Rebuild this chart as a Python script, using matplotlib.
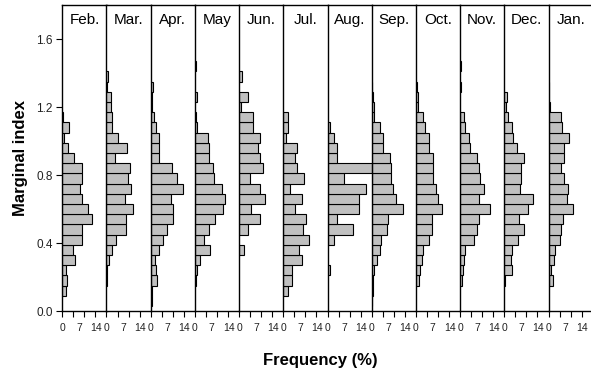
import matplotlib
matplotlib.use("Agg")
import matplotlib.pyplot as plt
import matplotlib.transforms as mtransforms

plt.rcParams['font.family'] = ['Liberation Sans', 'DejaVu Sans']

# bin centres of the marginal index (bin width 0.06)
bin_centers = [0.06, 0.12, 0.18, 0.24, 0.30, 0.36, 0.42, 0.48, 0.54, 0.60, 0.66, 0.72,
               0.78, 0.84, 0.90, 0.96, 1.02, 1.08, 1.14, 1.20, 1.26, 1.32, 1.38, 1.44]
bin_width = 0.06

months = ['Feb.', 'Mar.', 'Apr.', 'May', 'Jun.', 'Jul.',
          'Aug.', 'Sep.', 'Oct.', 'Nov.', 'Dec.', 'Jan.']

# frequency (%) per bin, one list per month
feb = [0, 1.4, 1.8, 1.4, 5.3, 4.6, 8.0, 8.4, 12.2, 10.8, 8.4, 7.5,
       8.0, 8.3, 4.7, 2.4, 0.6, 2.8, 0.4, 0, 0, 0, 0, 0]
mar = [0, 0, 0.3, 0.4, 1.1, 2.4, 4.0, 8.2, 8.2, 11.2, 7.7, 10.2,
       9.0, 9.9, 3.6, 8.7, 4.7, 2.4, 2.4, 1.9, 1.7, 0.4, 0.7, 0]
apr = [0.6, 0.7, 2.6, 2.2, 1.9, 3.6, 5.0, 6.6, 9.1, 9.1, 8.3, 13.3,
       10.8, 8.9, 3.6, 3.6, 3.6, 2.2, 1.2, 0.4, 0.4, 0.8, 0, 0]
may = [0, 0, 0.4, 1.0, 2.0, 6.1, 3.8, 5.8, 8.3, 11.7, 12.5, 11.3,
       8.0, 7.7, 5.8, 5.8, 5.3, 1.0, 0.6, 0, 0.7, 0, 0, 0.6]
jun = [0, 0, 0, 0, 0, 1.9, 0, 3.9, 8.6, 4.8, 10.7, 8.6,
       4.7, 9.8, 8.6, 7.7, 8.6, 5.7, 5.7, 0.7, 3.9, 0, 1.0, 0]
jul = [0, 1.9, 3.7, 3.7, 7.6, 6.4, 10.5, 8.4, 9.4, 4.7, 7.6, 2.6,
       8.6, 5.7, 4.7, 5.5, 1.0, 1.8, 1.8, 0, 0, 0, 0, 0]
aug = [0, 0, 0, 1.0, 0, 0, 2.9, 10.8, 4.0, 13.3, 13.3, 16.0,
       6.9, 18.4, 3.9, 3.9, 2.9, 1.0, 0, 0, 0, 0, 0, 0]
sep = [0.3, 0.4, 0.7, 1.0, 2.2, 3.4, 4.0, 6.4, 6.7, 13.0, 10.0, 9.0,
       8.0, 7.9, 7.6, 4.5, 4.5, 3.5, 1.0, 0.8, 0.5, 0.3, 0, 0]
oct_ = [0, 0, 1.4, 1.9, 2.5, 3.0, 5.4, 6.9, 6.8, 10.9, 9.1, 8.3,
        7.3, 7.1, 7.3, 5.4, 5.4, 3.9, 2.9, 0.8, 0.7, 0.4, 0, 0]
nov = [0, 0, 0.6, 1.2, 1.8, 2.2, 5.8, 7.2, 7.9, 12.3, 7.9, 9.8,
       8.4, 8.0, 7.2, 4.3, 3.7, 2.1, 1.8, 0, 0, 0.4, 0, 0.3]
dec = [0, 0, 0.4, 3.0, 2.6, 3.0, 5.9, 8.4, 6.1, 10.0, 11.8, 6.4,
       6.8, 6.9, 8.0, 5.4, 3.7, 3.2, 1.4, 0.7, 1.0, 0, 0, 0]
jan = [0, 0, 1.9, 1.0, 2.1, 2.9, 4.6, 5.1, 6.1, 10.2, 7.9, 8.2,
       6.6, 5.4, 6.4, 6.6, 8.4, 5.8, 5.1, 0.8, 0.4, 0.4, 0, 0]

freqs = [feb, mar, apr, may, jun, jul, aug, sep, oct_, nov, dec, jan]

x_max = 18.4
fig = plt.figure(figsize=(5.91, 3.75), dpi=100)

left0 = 62.3 / 591
panel_w = 44.2 / 591
bottom = 64 / 375
height = 306 / 375

for i, (name, vals) in enumerate(zip(months, freqs)):
    ax = fig.add_axes([left0 + i * panel_w, bottom, panel_w, height])
    ys = [c for c, v in zip(bin_centers, vals) if v > 0]
    ws = [v for v in vals if v > 0]
    ax.barh(ys, ws, height=bin_width, color='#c0c0c0',
            edgecolor='black', linewidth=0.8, clip_on=True)
    ax.set_xlim(0, x_max)
    ax.set_ylim(0, 1.8)

    for side in ['top', 'bottom', 'left']:
        ax.spines[side].set_linewidth(1.0)
    ax.spines['right'].set_visible(False)

    ax.set_xticks([0, x_max / 4, x_max / 2, 3 * x_max / 4])
    ax.set_xticklabels([])
    ax.tick_params(axis='x', direction='out', length=4, width=0.8)

    trans = mtransforms.blended_transform_factory(ax.transData, ax.transAxes)
    for val, lab in [(0, '0'), (7, '7'), (14, '14')]:
        ax.text(val, -0.056, lab, transform=trans, ha='center', va='center',
                fontsize=7.5, color='#222222')

    if i == 0:
        ax.set_yticks([0.0, 0.4, 0.8, 1.2, 1.6])
        ax.set_yticklabels(['0.0', '0.4', '0.8', '1.2', '1.6'], fontsize=8.5,
                           color='#222222')
        ax.tick_params(axis='y', direction='out', length=4, width=0.8, pad=3)
        ax.set_ylabel('Marginal index', fontsize=12, fontweight='bold', labelpad=6)
    else:
        ax.set_yticks([])

    ax.text(0.5, 0.951, name, transform=ax.transAxes, ha='center', va='center',
            fontsize=11)

fig.text(320 / 591, 1 - 360 / 375, 'Frequency (%)', ha='center', va='center',
         fontsize=12, fontweight='bold')

fig.savefig('out.png', dpi=100)
